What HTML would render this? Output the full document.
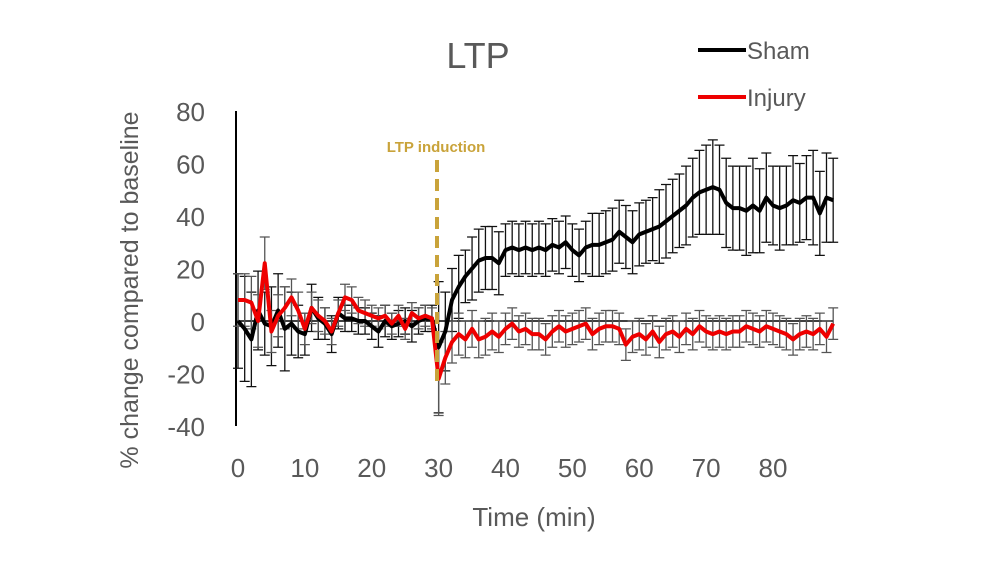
<!DOCTYPE html>
<html><head><meta charset="utf-8"><style>
body{margin:0;background:#fff;}
svg text{font-family:"Liberation Sans",sans-serif;}
</style></head><body>
<svg id="chart" width="1000" height="563" viewBox="0 0 1000 563" xmlns="http://www.w3.org/2000/svg">
<text x="478" y="68" font-size="36" fill="#595959" text-anchor="middle">LTP</text>
<g>
<line x1="698" y1="50" x2="746" y2="50" stroke="#000" stroke-width="4"/>
<text x="747" y="59" font-size="24" fill="#595959">Sham</text>
<line x1="698" y1="97" x2="746" y2="97" stroke="#e00" stroke-width="4"/>
<text x="747" y="106" font-size="24" fill="#595959">Injury</text>
</g>
<text transform="translate(138,290) rotate(-90)" font-size="25" fill="#595959" text-anchor="middle">% change compared to baseline</text>
<text x="534" y="526" font-size="26" fill="#595959" text-anchor="middle">Time (min)</text>
<text x="436" y="152" font-size="15" font-weight="bold" fill="#c9a33a" text-anchor="middle">LTP induction</text>
<g id="plot"></g>
</svg>
<script>
const yTicks=[80,60,40,20,0,-20,-40];
const xTicks=[0,10,20,30,40,50,60,70,80];
const sham=[0,-3,-7,4,-1,-2,4,-3,-1,-4,-5,5,1,-1,-5,3,1,1,0,0,-2,-4,0,-2,-1,0,-2,0,1,1,-10,-4,8,13,17,20,23,24,24,22,27,28,27,28,27,28,27,29,28,30,27,25,28,29,29,30,31,34,32,30,33,34,35,36,38,40,42,44,47,49,50,51,50,45,43,43,42,44,42,47,44,43,44,46,45,47,47,41,47,46];
const shamErr=[18,20,18,15,12,15,14,16,12,10,8,9,8,6,7,6,5,5,5,5,5,6,6,5,5,5,6,5,5,5,25,15,12,12,10,12,12,12,12,12,10,10,10,10,10,10,10,10,10,10,10,10,10,12,12,12,12,12,12,12,12,12,12,14,14,14,14,15,15,16,17,18,17,17,16,16,17,18,16,17,15,16,15,17,15,16,18,16,17,16];
const injury=[8,8,7,0,22,-4,2,5,9,4,-3,5,2,0,-4,3,9,8,4,3,2,1,2,-1,2,-3,3,1,2,1,-22,-14,-8,-5,-7,-3,-7,-6,-4,-6,-3,-1,-4,-3,-5,-5,-7,-4,-2,-4,-3,-2,-1,-5,-3,-2,-2,-3,-9,-6,-5,-7,-4,-8,-5,-4,-6,-3,-5,-2,-4,-5,-4,-5,-4,-4,-2,-3,-4,-2,-3,-4,-5,-7,-5,-4,-5,-3,-6,-1];
const injuryErr=[10,10,10,10,10,8,8,8,7,7,6,6,6,5,5,5,5,5,5,5,4,4,4,4,4,4,4,4,4,4,14,10,8,8,7,7,7,7,7,6,6,6,6,6,6,6,6,6,6,6,6,6,6,6,6,6,6,6,6,6,6,6,6,6,6,6,6,6,6,6,6,6,6,6,6,6,6,6,6,6,6,6,6,6,6,6,6,6,6,6];
const X=v=>238+v*(773-238)/80;
const Y=v=>321-v*(321-111)/80;
const NS='http://www.w3.org/2000/svg';
const g=document.getElementById('plot');
function mk(t,a){const e=document.createElementNS(NS,t);for(const k in a)e.setAttribute(k,a[k]);g.appendChild(e);return e;}
yTicks.forEach(v=>{const t=mk('text',{x:205,y:Y(v)+10,'font-size':26,fill:'#595959','text-anchor':'end'});t.textContent=v;

});
xTicks.forEach(v=>{const t=mk('text',{x:X(v),y:477,'font-size':26,fill:'#595959','text-anchor':'middle'});t.textContent=v;

});
const ya=mk('line',{x1:236,y1:Y(80),x2:236,y2:Y(-40),stroke:'#000','stroke-width':2});


const zl=mk('line',{x1:236,y1:Y(0),x2:833,y2:Y(0),stroke:'#000','stroke-width':1.5});


function series(vals,errs,color,name){
 vals.forEach((v,i)=>{const x=X(i);const e=mk('path',{d:`M${x},${Y(v-errs[i])}V${Y(v+errs[i])}M${x-5},${Y(v-errs[i])}h10M${x-5},${Y(v+errs[i])}h10`,stroke:color==='#000'?'#111':'#555','stroke-width':1.3,fill:'none'});
 
 });
}
function line(vals,color,name){
 const l=mk('polyline',{points:vals.map((v,i)=>X(i)+','+Y(v)).join(' '),fill:'none',stroke:color,'stroke-width':4,'stroke-linejoin':'round'});
 
 
}
series(sham,shamErr,'#000','sham');
series(injury,injuryErr,'#e00','injury');
line(sham,'#000','sham');
line(injury,'#e00','injury');
const d=mk('line',{x1:437,y1:160,x2:437,y2:382,stroke:'#c9a33a','stroke-width':4,'stroke-dasharray':'12,7'});


</script>
</body></html>
